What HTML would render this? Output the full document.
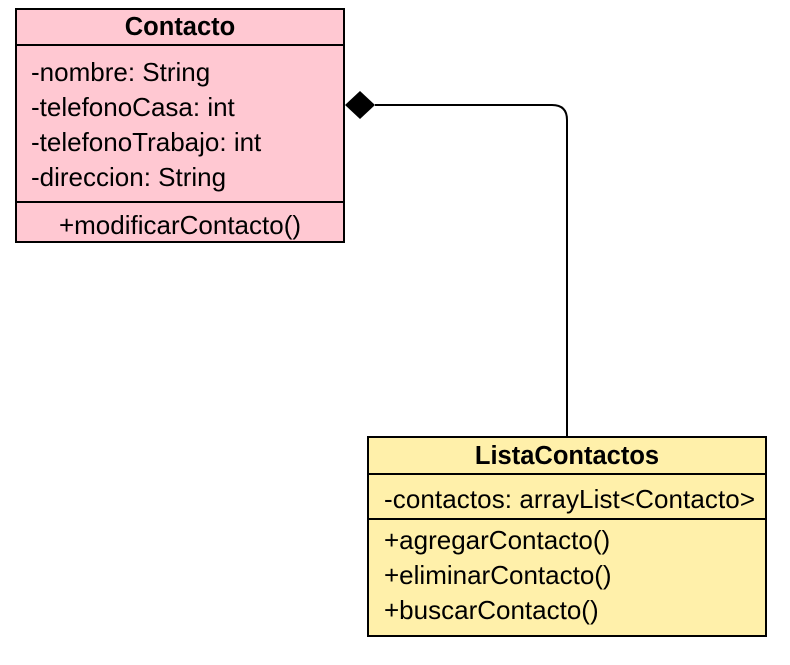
<!DOCTYPE html>
<html><head><style>body{margin:0;background:#fff}</style></head><body>
<svg width="790" height="660" xmlns="http://www.w3.org/2000/svg" font-family="Liberation Sans, Arial, sans-serif" font-size="26">
<rect x="16" y="9" width="328" height="233" fill="#ffc8d2" stroke="#000" stroke-width="2"/>
<line x1="16" y1="45" x2="344" y2="45" stroke="#000" stroke-width="2"/>
<line x1="16" y1="202" x2="344" y2="202" stroke="#000" stroke-width="2"/>
<text x="180" y="35" text-anchor="middle" font-weight="bold" font-size="25.5">Contacto</text>
<text x="31" y="81">-nombre: String</text>
<text x="31" y="116">-telefonoCasa: int</text>
<text x="31" y="151">-telefonoTrabajo: int</text>
<text x="31" y="186">-direccion: String</text>
<text x="180" y="234" text-anchor="middle">+modificarContacto()</text>
<rect x="368" y="437" width="398" height="199" fill="#fff0aa" stroke="#000" stroke-width="2"/>
<line x1="368" y1="474" x2="766" y2="474" stroke="#000" stroke-width="2"/>
<line x1="368" y1="519" x2="766" y2="519" stroke="#000" stroke-width="2"/>
<text x="567" y="464" text-anchor="middle" font-weight="bold" font-size="25.5">ListaContactos</text>
<text x="384" y="508" textLength="371">-contactos: arrayList&lt;Contacto&gt;</text>
<text x="384" y="549">+agregarContacto()</text>
<text x="384" y="584">+eliminarContacto()</text>
<text x="384" y="619">+buscarContacto()</text>
<path d="M375 105 H552 Q567 105 567 120 V437" fill="none" stroke="#000" stroke-width="2"/>
<polygon points="345,105 360,91 375,105 360,119" fill="#000"/>
</svg>
</body></html>
